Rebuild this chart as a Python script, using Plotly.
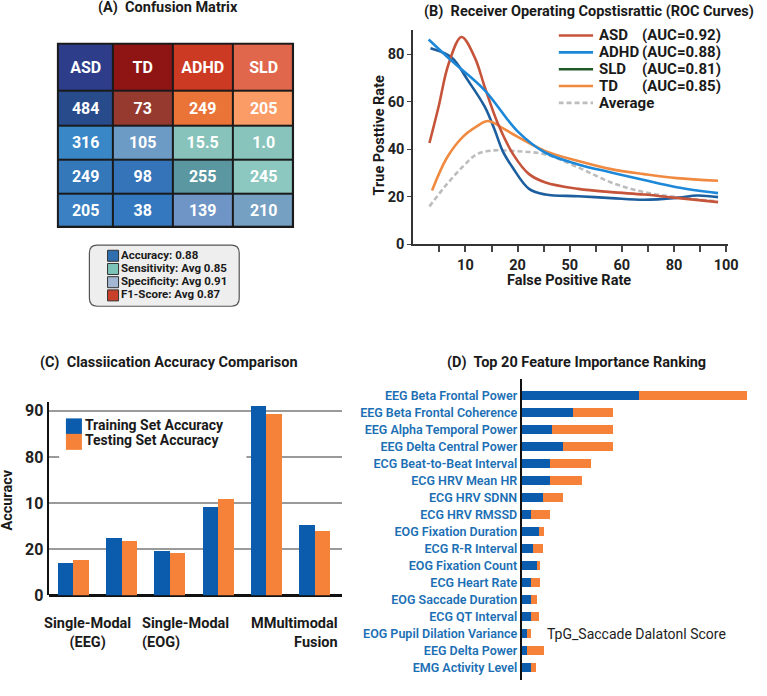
import plotly.graph_objects as go

W, H = 767, 696
def px(x): return x / W
def py(y): return 1 - y / H

FONT = "Roboto, Liberation Sans, Arial, sans-serif"
def bf(size, color="#1a1a1a", weight="bold"):
    return dict(family=FONT, size=size, color=color, weight=weight)

# ---------------- data: (A) confusion matrix ----------------
cm_header = ["ASD", "TD", "ADHD", "SLD"]
cm_values = [["484", "73", "249", "205"],
             ["316", "105", "15.5", "1.0"],
             ["249", "98", "255", "245"],
             ["205", "38", "139", "210"]]
cm_colors = [["#2d3d8a", "#8f1414", "#cc3a24", "#e0674b"],
             ["#284b8c", "#963a30", "#ea7438", "#fb9c66"],
             ["#3a87c8", "#6c9bc6", "#87c3ba", "#88c4bb"],
             ["#3578ba", "#3574b9", "#5a97a0", "#8dc8c0"],
             ["#3a80c2", "#3479c0", "#6e95c6", "#75a0c2"]]
metric_labels = ["Accuracy", "Sensitivity", "Specificity", "F1-Score"]
metric_values = ["0.88", "Avg 0.85", "Avg 0.91", "Avg 0.87"]
metric_colors = ["#2f6fb0", "#7cc3b8", "#a3b6d2", "#c9402a"]

# ---------------- data: (B) ROC curves ----------------
roc_ticklabels = ["", "10", "", "20", "", "50", "", "60", "", "80", "", "100"]
asd_x = [0.62, 0.97, 1.35, 1.85, 2.36, 2.74, 3.24, 3.85, 4.44, 5.07, 6.33, 7.59, 8.85, 10.1, 11.69]
asd_y = [42.6, 57.9, 75.8, 87.3, 78.6, 66.2, 50.9, 37.5, 29.5, 26.0, 23.3, 21.9, 20.9, 19.5, 17.7]
adhd_x = [0.59, 1.47, 2.74, 4.0, 5.07, 6.33, 7.59, 8.85, 10.1, 11.69]
adhd_y = [86.2, 77.2, 64.8, 47.5, 38.5, 33.6, 30.2, 27.0, 24.0, 21.5]
sld_x = [0.66, 1.47, 2.1, 2.74, 3.12, 3.43, 3.81, 4.44, 5.07, 6.33, 7.59, 8.85, 10.1, 10.9, 11.69]
sld_y = [82.5, 78.6, 68.9, 57.9, 48.2, 39.2, 32.3, 23.3, 20.9, 20.2, 19.4, 18.7, 19.5, 20.5, 19.8]
td_x = [0.72, 1.29, 1.92, 2.42, 2.86, 3.43, 3.81, 5.07, 6.33, 7.59, 8.85, 10.1, 11.69]
td_y = [22.6, 36.4, 45.4, 49.5, 51.9, 48.9, 46.4, 39.2, 35.0, 31.6, 29.5, 27.8, 26.7]
avg_x = [0.62, 1.29, 1.92, 2.42, 2.99, 3.93, 5.07, 6.33, 7.59, 8.85, 10.1, 11.69]
avg_y = [15.9, 25.3, 32.9, 37.8, 39.4, 39.2, 37.8, 32.3, 26.0, 21.9, 19.8, 18.0]
roc_names = ["ASD", "ADHD", "SLD", "TD", "Average"]
roc_auc = ["0.92", "0.88", "0.81", "0.85", None]

# ---------------- data: (C) accuracy comparison ----------------
acc_groups = [0, 1, 2, 3, 4, 5]
acc_train = [14.1, 25.2, 19.2, 38.4, 82.4, 30.6]
acc_test = [15.5, 23.8, 18.5, 42.1, 78.7, 27.9]
acc_series = ["Training Set Accuracy", "Testing Set Accuracy"]
acc_tickvals = [0, 20, 40, 60, 80]
acc_ticktext = ["0", "20", "10", "80", "90"]
acc_labels = ["Single-Modal<br>(EEG)", "Single-Modal<br>(EOG)", "MMultimodal<br>Fusion"]
acc_label_pos = [0.3, 2.33, 4.58]

# ---------------- data: (D) feature importance ----------------
features = ["EEG Beta Frontal Power", "EEG Beta Frontal Coherence", "EEG Alpha Temporal Power",
            "EEG Delta Central Power", "ECG Beat-to-Beat Interval", "ECG HRV Mean HR",
            "ECG HRV SDNN", "ECG HRV RMSSD", "EOG Fixation Duration", "ECG R-R Interval",
            "EOG Fixation Count", "ECG Heart Rate", "EOG Saccade Duration", "ECG QT Interval",
            "EOG Pupil Dilation Variance", "EEG Delta Power", "EMG Activity Level"]
imp_blue = [0.119, 0.052, 0.030, 0.042, 0.028, 0.028, 0.021, 0.009, 0.017, 0.011,
            0.015, 0.009, 0.009, 0.009, 0.005, 0.005, 0.009]
imp_orange = [0.109, 0.040, 0.062, 0.050, 0.042, 0.033, 0.021, 0.019, 0.005, 0.010,
              0.003, 0.009, 0.006, 0.008, 0.004, 0.017, 0.005]

BLUE = "#0b5cad"
ORANGE = "#f58238"
C_ASD, C_ADHD, C_SLD, C_TD, C_AVG = "#c6543a", "#1d88d8", "#1d5f9e", "#f08a40", "#bdbdbd"
C_SLD_LEGEND = "#1f5a26"
LW = 2.6

fig = go.Figure()

# ---------- (A) heatmap ----------
col_w = [55.6, 60.7, 61.7, 60.6]
row_h = [48, 35.4, 34.6, 34.4, 33.3]
x_edges = [0]
for w in col_w:
    x_edges.append(x_edges[-1] + w)
y_edges = [0]
for h in row_h:
    y_edges.append(y_edges[-1] + h)
flat_colors = [c for row in cm_colors for c in row]
n = len(flat_colors)
z = [[r * 4 + c for c in range(4)] for r in range(5)]
fig.add_trace(go.Heatmap(
    x=x_edges, y=y_edges, z=z, text=[cm_header] + cm_values, texttemplate="%{text}",
    textfont=bf(16, "white"), colorscale=[[i / (n - 1), c] for i, c in enumerate(flat_colors)],
    zmin=0, zmax=n - 1, showscale=False, xgap=2, ygap=2, hoverinfo="skip",
    xaxis="x", yaxis="y"))

# metric legend of panel A
fig.add_trace(go.Scatter(
    x=[0] * len(metric_labels), y=list(range(len(metric_labels))), mode="markers+text",
    marker=dict(symbol="square", size=11, color=metric_colors, line=dict(color="#333", width=1)),
    text=[f"{l}: {v}" for l, v in zip(metric_labels, metric_values)],
    textposition="middle right", textfont=bf(11.5), showlegend=False, hoverinfo="skip",
    cliponaxis=False, xaxis="x5", yaxis="y5"))

# ---------- (B) ROC ----------
def roc(xs, ys, color, dash=None):
    fig.add_trace(go.Scatter(x=xs, y=ys, mode="lines", showlegend=False, hoverinfo="skip",
                             line=dict(color=color, width=LW, shape="spline", dash=dash),
                             xaxis="x2", yaxis="y2"))
roc(avg_x, avg_y, C_AVG, "5px,3px")
roc(sld_x, sld_y, C_SLD)
roc(td_x, td_y, C_TD)
roc(asd_x, asd_y, C_ASD)
roc(adhd_x, adhd_y, C_ADHD)

# legend of panel B (line samples on a hidden axis)
leg_colors = [C_ASD, C_ADHD, C_SLD_LEGEND, C_TD, C_AVG]
leg_dash = [None, None, None, None, "5px,3px"]
for i, (c, d) in enumerate(zip(leg_colors, leg_dash)):
    fig.add_trace(go.Scatter(x=[0, 35], y=[i, i], mode="lines", line=dict(color=c, width=LW, dash=d),
                             showlegend=False, hoverinfo="skip", xaxis="x6", yaxis="y6"))

# ---------- (C) bars ----------
fig.add_trace(go.Bar(x=acc_groups, y=acc_train, width=0.32, offset=-0.32, marker=dict(color=BLUE, line_width=0),
                     name=acc_series[0], showlegend=False, xaxis="x3", yaxis="y3"))
fig.add_trace(go.Bar(x=acc_groups, y=acc_test, width=0.32, offset=0, marker=dict(color=ORANGE, line_width=0),
                     name=acc_series[1], showlegend=False, xaxis="x3", yaxis="y3"))
fig.add_trace(go.Scatter(
    x=[0, 0], y=[0, 1], mode="markers+text",
    marker=dict(symbol="square", size=16, color=[BLUE, ORANGE], line_width=0),
    text=acc_series, textposition="middle right", textfont=bf(14),
    showlegend=False, hoverinfo="skip", cliponaxis=False, xaxis="x7", yaxis="y7"))

# ---------- (D) feature importance ----------
fig.add_trace(go.Bar(y=features, x=imp_blue, orientation="h", width=0.5, offset=-0.25,
                     marker=dict(color=BLUE, line_width=0), showlegend=False, xaxis="x4", yaxis="y4"))
fig.add_trace(go.Bar(y=features, x=imp_orange, base=imp_blue, orientation="h", width=0.5, offset=-0.25,
                     marker=dict(color=ORANGE, line_width=0), showlegend=False, xaxis="x4", yaxis="y4"))

# ---------- shapes ----------
shapes = [dict(type="rect", xref="x", yref="y", x0=-1.2, x1=x_edges[-1] + 1.2, y0=-1.2, y1=y_edges[-1] + 1.2,
               fillcolor="#1a1a1a", line_width=0, layer="below")]
x0, x1, y0, y1 = px(90.7), px(242.7), py(310.7), py(248.7)
rx, ry = 8 / W, 8 / H
path = (f"M{x0+rx},{y1} L{x1-rx},{y1} Q{x1},{y1} {x1},{y1-ry} L{x1},{y0+ry} Q{x1},{y0} {x1-rx},{y0} "
        f"L{x0+rx},{y0} Q{x0},{y0} {x0},{y0+ry} L{x0},{y1-ry} Q{x0},{y1} {x0+rx},{y1} Z")
shapes.append(dict(type="path", xref="paper", yref="paper", path=path, fillcolor="#eeeeee",
                   line=dict(color="#555", width=1.2), layer="below"))

# ---------- annotations ----------
ann = []
def title(text, x, y):
    ann.append(dict(text=text, x=px(x), y=py(y), xref="paper", yref="paper", showarrow=False,
                    xanchor="center", yanchor="middle", font=bf(14.5)))
title("(A)\u00a0 Confusion Matrix", 170, 8)
title("(B)\u00a0 Receiver Operating Copstisrattic (ROC Curves)", 598, 12)
title("(C)\u00a0 Classiication Accuracy Comparison", 171, 368)
title("(D)\u00a0 Top 20 Feature Importance Ranking", 585, 368)

def axtitle(text, x, y, angle=0):
    ann.append(dict(text=text, x=px(x), y=py(y), xref="paper", yref="paper", showarrow=False,
                    xanchor="center", yanchor="middle", textangle=angle, font=bf(14.5)))
axtitle("True Posttive Rate", 385, 137, -90)
axtitle("False Positive Rate", 577, 285)
axtitle("Accuracv", 8, 507, -90)

for i, (nm, a) in enumerate(zip(roc_names, roc_auc)):
    ann.append(dict(text=nm, x=39, y=i, xref="x6", yref="y6", showarrow=False,
                    xanchor="left", yanchor="middle", font=bf(15)))
    if a is not None:
        ann.append(dict(text=f"(AUC={a})", x=83, y=i, xref="x6", yref="y6", showarrow=False,
                        xanchor="left", yanchor="middle", font=bf(15)))

aligns = ["center", "left", "right"]
for lab, xp, al in zip(acc_labels, acc_label_pos, aligns):
    ann.append(dict(text=lab, x=xp, y=py(642), xref="x3", yref="paper", showarrow=False,
                    xanchor="center", yanchor="middle", align=al, font=bf(14.5)))

ann.append(dict(text="TpG_Saccade Dalatonl Score", x=0.024, y=features[14], xref="x4", yref="y4",
                showarrow=False, xanchor="left", yanchor="middle",
                font=dict(family=FONT, size=14, color="#222")))

tick_b = bf(14.5, "#222")
fig.update_layout(
    width=W, height=H, margin=dict(l=0, r=0, t=0, b=0, pad=0),
    paper_bgcolor="white", plot_bgcolor="white",
    font=dict(family=FONT, color="#222"),
    showlegend=False,
    xaxis=dict(domain=[px(57.5), px(298.5)], range=[-1.2, x_edges[-1] + 1.2], visible=False,
               anchor="y", fixedrange=True),
    yaxis=dict(domain=[py(231.2), py(43.1)], range=[y_edges[-1] + 1.2, -1.2], visible=False,
               anchor="x", fixedrange=True),
    # panel A metric legend: rows 13.4 px apart starting at y=259.5
    xaxis5=dict(domain=[px(100), px(240)], range=[-14.7, 125.3], visible=False, anchor="y5"),
    yaxis5=dict(domain=[py(310), py(250)], range=[(310 - 259.5) / 13.4, -(259.5 - 250) / 13.4],
                visible=False, anchor="x5"),
    # panel B legend area
    xaxis6=dict(domain=[px(566.7), px(766)], range=[0, 199.3], visible=False, anchor="y6"),
    yaxis6=dict(domain=[py(120), py(25)], range=[(120 - 36) / 17.1, -(36 - 25) / 17.1], visible=False, anchor="x6"),
    # panel C legend area
    xaxis7=dict(domain=[px(60), px(250)], range=[-15, 175], visible=False, anchor="y7"),
    yaxis7=dict(domain=[py(470), py(420)], range=[(470 - 432.6) / 15.7, -(432.6 - 420) / 15.7], visible=False, anchor="x7"),
    xaxis2=dict(domain=[px(419.3), px(738.3)], range=[0, 12.06], tickvals=list(range(1, 13)),
                ticktext=roc_ticklabels, ticks="outside", ticklen=6, tickwidth=1.5, tickcolor="#444",
                showline=True, linecolor="#333", linewidth=2, showgrid=False, zeroline=False,
                tickfont=tick_b, anchor="y2"),
    yaxis2=dict(domain=[py(247.7), py(30)], range=[0, 90.4], tickvals=[0, 20, 40, 60, 80],
                ticks="outside", ticklen=4, tickcolor="#444", showline=True, linecolor="#333", linewidth=2,
                showgrid=False, zeroline=False, tickfont=tick_b, anchor="x2"),
    xaxis3=dict(domain=[px(49.3), px(346.7)], range=[-0.5, 5.565], showticklabels=False, ticks="",
                showgrid=False, zeroline=False, showline=False, anchor="y3"),
    yaxis3=dict(domain=[py(604), py(407.4)], range=[0, 84], tickvals=acc_tickvals, ticktext=acc_ticktext,
                showgrid=True, gridcolor="#9a9a9a", gridwidth=1.5, zeroline=True, zerolinecolor="#111",
                zerolinewidth=2.5, showline=True, linecolor="#111", linewidth=2, ticks="",
                tickfont=bf(16, "#222"), anchor="x3"),
    xaxis4=dict(domain=[px(529.3), px(760)], range=[0, 0.2307], visible=False, anchor="y4"),
    yaxis4=dict(domain=[py(690), py(385)], type="category", categoryorder="array", categoryarray=features,
                range=[16.713, -0.968], showline=True, linecolor="#111", linewidth=2, ticks="",
                showgrid=False, zeroline=False, tickfont=bf(12.5, "#1c6fb4", 600), anchor="x4"),
    shapes=shapes, annotations=ann, bargap=0,
)

fig.write_html("out.html", config={"displayModeBar": False})
